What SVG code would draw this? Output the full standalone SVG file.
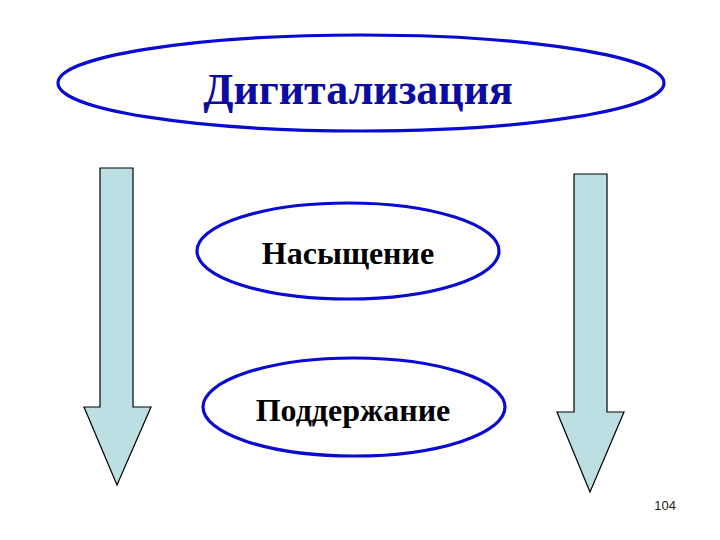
<svg xmlns="http://www.w3.org/2000/svg" width="720" height="540" viewBox="0 0 720 540">
<style>
.oval{fill:#ffffff;stroke:#0a0ad0;stroke-width:3.2}
.arrow{fill:#bcdfe3;stroke:#000000;stroke-width:1.2;stroke-linejoin:miter}
.t{font-family:"Liberation Serif","Times New Roman",serif;font-weight:bold;text-anchor:middle}
</style>
<rect width="720" height="540" fill="#ffffff"/>
<g id="connectors">
<polygon class="arrow" points="100,168 133,168 133,407 151,407 117,485 84,407 100,407"/>
<polygon class="arrow" points="574,174 607,174 607,412 624,412 590,492 557,412 574,412"/>
</g>
<g id="node-digital">
<ellipse class="oval" cx="361" cy="83" rx="303" ry="48"/>
<text class="t" x="358" y="104" font-size="44" fill="#0c0ca0">Дигитализация</text>
</g>
<g id="node-saturation">
<ellipse class="oval" cx="348" cy="251" rx="151" ry="48"/>
<text class="t" x="348" y="264" font-size="32" fill="#000000">Насыщение</text>
</g>
<g id="node-support">
<ellipse class="oval" cx="354" cy="407" rx="151" ry="49"/>
<text class="t" x="353" y="421" font-size="32" fill="#000000">Поддержание</text>
</g>
<text x="676" y="510" font-family="Liberation Sans, Arial, sans-serif" font-size="13" text-anchor="end" fill="#222222">104</text>
</svg>
